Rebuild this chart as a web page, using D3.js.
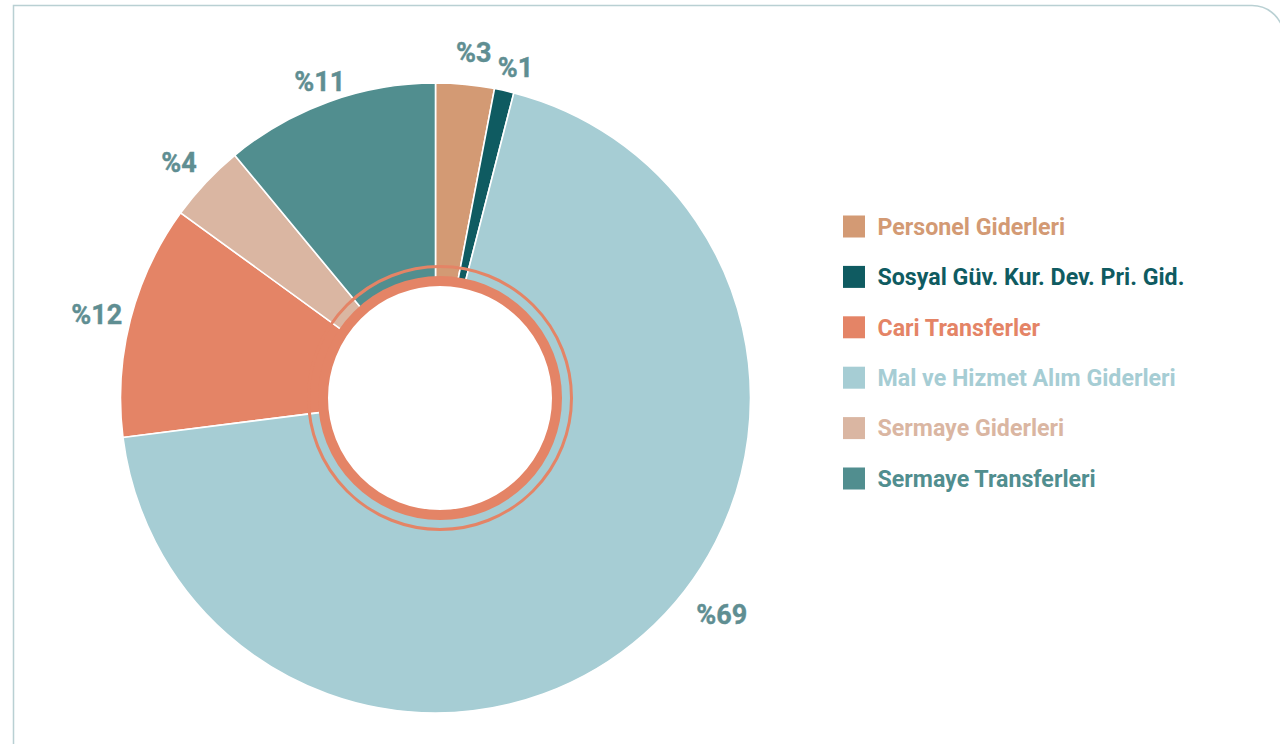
<!DOCTYPE html>
<html>
<head>
<meta charset="utf-8">
<script src="https://cdn.jsdelivr.net/npm/d3@7"></script>
<style>
  html, body { margin: 0; padding: 0; background: #ffffff; }
  svg { display: block; }
</style>
</head>
<body>
<svg id="chart" width="1280" height="744"></svg>
<script>
// ---- data ----
const categories = [
  "Personel Giderleri",
  "Sosyal Güv. Kur. Dev. Pri. Gid.",
  "Cari Transferler",
  "Mal ve Hizmet Alım Giderleri",
  "Sermaye Giderleri",
  "Sermaye Transferleri"
];
const values = [3, 1, 12, 69, 4, 11];
const labels = ["%3", "%1", "%12", "%69", "%4", "%11"];
// clockwise order of the slices (indices into categories)
const sliceOrder = [0, 1, 3, 2, 4, 5];
const colors = ["#D39A74", "#0F5B61", "#E48466", "#A6CDD4", "#DAB6A2", "#518E8F"];

// ---- drawing ----
const svg = d3.select("#chart");
const cx = 435.5, cy = 398, R = 315;

// frame
svg.append("path")
  .attr("d", "M13.5,744 V5.5 H1252 A32,32 0 0 1 1284,37.5 V744")
  .attr("fill", "none")
  .attr("stroke", "#B9D0D3")
  .attr("stroke-width", 1.5);

const rank = new Map(sliceOrder.map((d, i) => [d, i]));
const pie = d3.pie()
  .value(i => values[i])
  .sort((a, b) => rank.get(a) - rank.get(b));
const arcs = pie(d3.range(categories.length));

const arc = d3.arc().innerRadius(95).outerRadius(R);
const g = svg.append("g").attr("transform", `translate(${cx},${cy})`);

g.selectAll("path.slice")
  .data(arcs)
  .join("path")
  .attr("class", "slice")
  .attr("d", arc)
  .attr("fill", d => colors[d.data])
  .attr("stroke", "#ffffff")
  .attr("stroke-width", 1.6)
  .attr("stroke-linejoin", "round");

// inner rings (slightly offset centre as in the reference)
const ring = svg.append("g").attr("transform", `translate(${cx + 4.5},${cy})`);
ring.append("circle").attr("r", 131.5)
  .attr("fill", "none").attr("stroke", "#E48466").attr("stroke-width", 3);
ring.append("circle").attr("r", 117)
  .attr("fill", "#ffffff").attr("stroke", "#E48466").attr("stroke-width", 10);

// percentage labels (placement radius / angle shift per slice)
const labelTweak = {
  0: { da: 0.9, r: 348 },
  1: { da: 1.0, r: 340 },
  2: { da: -0.5, r: 349 },
  3: { da: -11.5, r: 359 },
  4: { da: -0.6, r: 348.5 },
  5: { da: -0.3, r: 337 }
};
const labelFont = 27;
g.selectAll("text.pct")
  .data(arcs)
  .join("text")
  .attr("class", "pct")
  .each(function (d) {
    const t = labelTweak[d.data];
    const a = (d.startAngle + d.endAngle) / 2 + t.da * Math.PI / 180;
    d3.select(this)
      .attr("x", t.r * Math.sin(a))
      .attr("y", -t.r * Math.cos(a) + labelFont * 0.355);
  })
  .attr("text-anchor", "middle")
  .attr("font-family", "Roboto, 'Noto Sans', sans-serif")
  .attr("font-weight", 700)
  .attr("font-size", labelFont)
  .attr("fill", "#5F8E92")
  .attr("stroke", "#5F8E92")
  .attr("stroke-width", 0.4)
  .text(d => labels[d.data]);

// legend
const legY = d3.scalePoint().domain(d3.range(categories.length)).range([226.5, 478.5]);
const leg = svg.append("g");
const items = leg.selectAll("g.item")
  .data(d3.range(categories.length))
  .join("g")
  .attr("class", "item")
  .attr("transform", i => `translate(843,${legY(i)})`);
items.append("rect")
  .attr("x", 0).attr("y", -11).attr("width", 22).attr("height", 22)
  .attr("fill", i => colors[i]);
items.append("text")
  .attr("x", 34.5)
  .attr("y", 8.3)
  .attr("font-family", "Roboto, 'Noto Sans', sans-serif")
  .attr("font-weight", 700)
  .attr("font-size", 23.2)
  .attr("fill", i => colors[i])
  .text(i => categories[i]);
</script>
</body>
</html>
